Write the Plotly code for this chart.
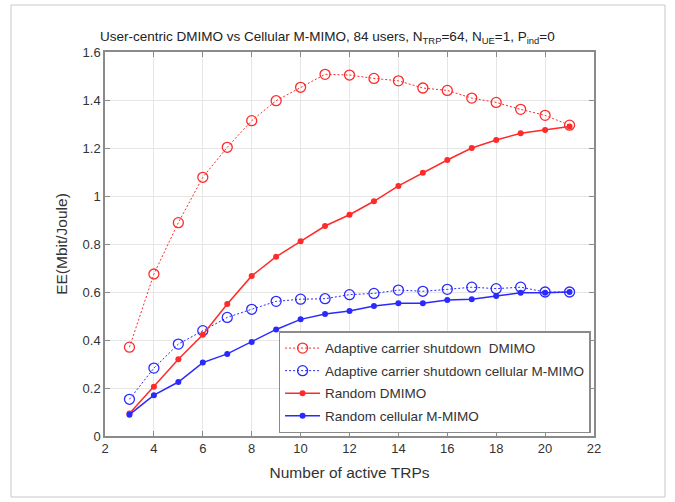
import plotly.graph_objects as go

trps = [3, 4, 5, 6, 7, 8, 9, 10, 11, 12, 13, 14, 15, 16, 17, 18, 19, 20, 21]

adaptive_dmimo = [0.37, 0.675, 0.889, 1.078, 1.203, 1.314, 1.397, 1.453, 1.507, 1.504,
                  1.49, 1.48, 1.45, 1.44, 1.408, 1.39, 1.361, 1.336, 1.295]
adaptive_cellular = [0.153, 0.283, 0.383, 0.439, 0.494, 0.528, 0.561, 0.57, 0.572, 0.589,
                     0.594, 0.608, 0.603, 0.611, 0.62, 0.614, 0.62, 0.6, 0.6]
random_dmimo = [0.094, 0.205, 0.32, 0.422, 0.55, 0.667, 0.747, 0.811, 0.875, 0.922,
                0.978, 1.042, 1.097, 1.15, 1.2, 1.233, 1.261, 1.275, 1.29]
random_cellular = [0.089, 0.17, 0.225, 0.306, 0.342, 0.392, 0.444, 0.486, 0.508, 0.521,
                   0.542, 0.553, 0.553, 0.567, 0.57, 0.583, 0.597, 0.597, 0.6]

names = ["Adaptive carrier shutdown\u00a0 DMIMO",
         "Adaptive carrier shutdown cellular M-MIMO",
         "Random DMIMO",
         "Random cellular M-MIMO"]

x_ticks = [2, 4, 6, 8, 10, 12, 14, 16, 18, 20, 22]
y_ticks = [0, 0.2, 0.4, 0.6, 0.8, 1, 1.2, 1.4, 1.6]
y_ticklabels = ["0", "0.2", "0.4", "0.6", "0.8", "1", "1.2", "1.4", "1.6"]

RED = "#ff2a2a"
BLUE = "#2a2aff"

fig = go.Figure()
fig.add_trace(go.Scatter(
    x=trps, y=adaptive_dmimo, name=names[0], legendgroup="a",
    mode="lines+markers",
    line=dict(color=RED, width=1, dash="2px,2px"),
    marker=dict(symbol="circle-open", size=10, color=RED, line=dict(width=1.3)),
))
fig.add_trace(go.Scatter(
    x=trps, y=adaptive_cellular, name=names[1], legendgroup="b",
    mode="lines+markers",
    line=dict(color=BLUE, width=1, dash="2px,2px"),
    marker=dict(symbol="circle-open", size=10, color=BLUE, line=dict(width=1.3)),
))
fig.add_trace(go.Scatter(
    x=trps, y=random_dmimo, name=names[2], legendgroup="c",
    mode="lines+markers",
    line=dict(color=RED, width=1.5),
    marker=dict(symbol="circle", size=6, color=RED),
))
fig.add_trace(go.Scatter(
    x=trps, y=random_cellular, name=names[3], legendgroup="d",
    mode="lines+markers",
    line=dict(color=BLUE, width=1.5),
    marker=dict(symbol="circle", size=6, color=BLUE),
))

FONT = "Liberation Sans, Arial, sans-serif"

fig.update_layout(
    width=675, height=502,
    margin=dict(l=105, r=81, t=52, b=66),
    paper_bgcolor="white", plot_bgcolor="white",
    font=dict(family=FONT, size=13, color="#333333"),
    title=dict(
        text="User-centric DMIMO vs Cellular M-MIMO, 84 users, N<sub>TRP</sub>=64, N<sub>UE</sub>=1, P<sub>ind</sub>=0",
        x=0.485, xanchor="center", y=1 - 36 / 502, yanchor="middle", yref="container",
        font=dict(family=FONT, size=13.5, color="#222222"),
    ),
    showlegend=True,
    legend=dict(
        x=0.993, xanchor="right", y=0.007, yanchor="bottom",
        bgcolor="white", bordercolor="#8a8a8a", borderwidth=1.5,
        font=dict(family=FONT, size=13.5, color="#333333"),
        tracegroupgap=2, itemwidth=35,
    ),
    xaxis=dict(
        range=[2, 22], tickvals=x_ticks,
        showgrid=True, gridcolor="#e6e6e6", gridwidth=1,
        showline=True, linecolor="#8a8a8a", linewidth=1.5, mirror="ticks",
        ticks="inside", ticklen=5, tickcolor="#8a8a8a",
        tickfont=dict(size=13),
        zeroline=False,
        title=dict(text="Number of active TRPs", font=dict(family=FONT, size=15.5, color="#333333"), standoff=12),
    ),
    yaxis=dict(
        range=[0, 1.6], tickvals=y_ticks, ticktext=y_ticklabels,
        showgrid=True, gridcolor="#e6e6e6", gridwidth=1,
        showline=True, linecolor="#8a8a8a", linewidth=1.5, mirror="ticks",
        ticks="inside", ticklen=5, tickcolor="#8a8a8a",
        tickfont=dict(size=13),
        zeroline=False,
        title=dict(text="EE(Mbit/Joule)", font=dict(family=FONT, size=15.5, color="#333333"), standoff=11),
    ),
)

# light frame around the whole figure
fig.add_shape(type="rect", xref="paper", yref="paper",
              x0=(11 - 105) / 489, x1=(665 - 105) / 489,
              y0=(436 - 497) / 384, y1=(436 - 5) / 384,
              line=dict(color="#c8c8c8", width=1), layer="below")

fig.write_html("out.html")
